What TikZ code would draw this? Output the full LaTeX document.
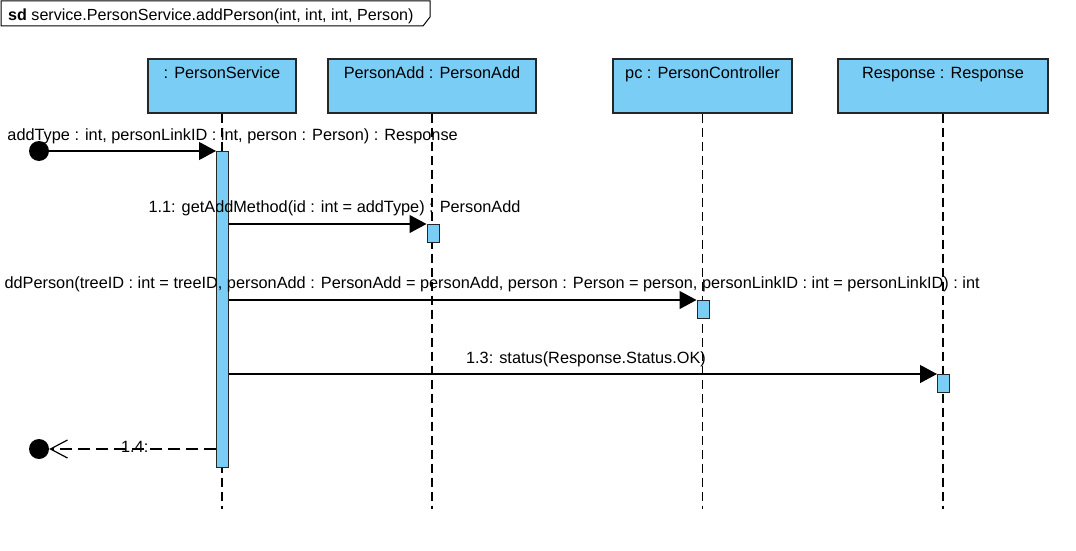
\documentclass[tikz,border=0pt]{standalone}
\usepackage{fontspec}
\setmainfont{Liberation Sans}
\usetikzlibrary{arrows.meta}
\definecolor{lifeblue}{RGB}{122,206,245}
\newcommand\msgfont{\fontsize{16.3}{20}\selectfont}
\newcommand\headfont{\fontsize{16.1}{19}\selectfont}

\begin{document}
\begin{tikzpicture}[x=1pt,y=-1pt,
  headbox/.style={draw=black!85,fill=lifeblue,line width=1.2pt,minimum height=54pt,inner sep=0pt},
  actbar/.style={draw=black!85,fill=lifeblue,line width=1pt,minimum width=12pt,inner sep=0pt,anchor=north},
  lifeline/.style={line width=1.2pt,dash pattern=on 9pt off 5pt},
  callmsg/.style={line width=1.2pt,-{Triangle[length=17pt,width=18pt]}},
  replymsg/.style={line width=1.2pt,dash pattern=on 12pt off 6pt,-{Straight Barb[length=17pt,width=18pt]}},
  endpoint/.style={circle,fill=black,minimum size=20pt,inner sep=0pt},
  msglabel/.style={anchor=base,font=\msgfont,inner sep=0pt}]
\useasboundingbox (0,0) rectangle (1076,551);

%Frame label
\draw[line width=1pt] (1,1) -- (430,1) -- (430,17) -- (423,26) -- (1,26) -- cycle;
\node[anchor=base west,font=\headfont,inner sep=0pt] (sdtitle) at (8,21) {\textbf{sd} service.PersonService.addPerson(int, int, int, Person)};

%Lifeline heads
\node[headbox,minimum width=148pt] (service) at (222,86) {};
\node[headbox,minimum width=208pt] (adder) at (432,86) {};
\node[headbox,minimum width=179pt] (ctrl) at (702.5,86) {};
\node[headbox,minimum width=210pt] (resp) at (943,86) {};
\node[msglabel] (servicename) at ([yshift=-20pt]service.north) {: PersonService};
\node[msglabel] (addername) at ([yshift=-20pt]adder.north) {PersonAdd : PersonAdd};
\node[msglabel] (ctrlname) at ([yshift=-20pt]ctrl.north) {pc : PersonController};
\node[msglabel] (respname) at ([yshift=-20pt]resp.north) {Response : Response};

%Lifelines
\coordinate (bottom) at (0,509);
\foreach \obj in {service,adder,ctrl,resp}
  \draw[lifeline] (\obj.south) -- (\obj.south |- bottom);

%Activation bars
\node[actbar,minimum height=316pt] (servicebar) at ([xshift=0.5pt]service.south |- 0,151) {};
\node[actbar,minimum height=18pt] (adderbar) at ([xshift=1pt]adder.south |- 0,224) {};
\node[actbar,minimum height=18pt] (ctrlbar) at ([xshift=0.5pt]ctrl.south |- 0,300) {};
\node[actbar,minimum height=18pt] (respbar) at ([xshift=0.5pt]resp.south |- 0,374) {};

%Found and lost ends
\node[endpoint] (found) at (39,151) {};
\node[endpoint] (lost) at (39,449) {};

%Messages
\draw[callmsg] (found) -- (found -| servicebar.west);
\draw[callmsg] (adderbar.north west -| servicebar.east) -- (adderbar.north west);
\draw[callmsg] (ctrlbar.north west -| servicebar.east) -- (ctrlbar.north west);
\draw[callmsg] (respbar.north west -| servicebar.east) -- (respbar.north west);
\draw[replymsg] (lost -| servicebar.west) -- (lost);

%Message labels
\node[msglabel,anchor=base east] (m1) at (458,140) {addType : int, personLinkID : int, person : Person) : Response};
\node[msglabel] (m11) at (334.5,212) {1.1: getAddMethod(id : int = addType) : PersonAdd};
\node[msglabel,anchor=base east] (m12) at (980,288) {ddPerson(treeID : int = treeID, personAdd : PersonAdd = personAdd, person : Person = person, personLinkID : int = personLinkID) : int};
\node[msglabel] (m13) at (586,363) {1.3: status(Response.Status.OK)};
\node[msglabel] (m14) at (134.7,452) {1.4:};
\end{tikzpicture}
\end{document}
